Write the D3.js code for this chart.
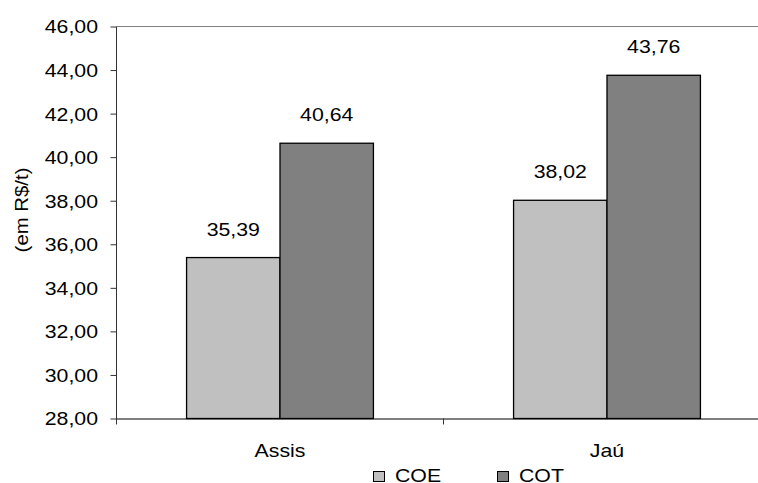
<!DOCTYPE html>
<html><head><meta charset="utf-8">
<script src="https://cdn.jsdelivr.net/npm/d3@7"></script>
<style>body{margin:0;background:#fff}svg{display:block;font-family:Arial,"Liberation Sans",sans-serif}</style>
</head><body><svg id="c" width="758" height="483"></svg>
<script>
const categories = ["Assis", "Jaú"];
const seriesNames = ["COE", "COT"];
const coe = [35.39, 38.02];
const cot = [40.64, 43.76];
const yTicks = [28, 30, 32, 34, 36, 38, 40, 42, 44, 46];
const colors = ["#C0C0C0", "#808080"];

const FS = 18.5;
const svg = d3.select("#c");
const m = {l:116.5, t:26.5, r:770.5, b:418.5};
const x0 = d3.scaleBand().domain(categories).range([m.l, m.r]).paddingInner(0).paddingOuter(0);
const y = d3.scaleLinear().domain([28, 46]).range([m.b, m.t]);
const fmt = v => d3.format(".2f")(v).replace(".", ",");

// top border
svg.append("line").attr("x1", m.l).attr("x2", m.r).attr("y1", m.t).attr("y2", m.t).attr("stroke", "#808080").attr("stroke-width", 1);

const series = [coe, cot];
const bw = x0.bandwidth() / 3.5;
const x1 = d3.scaleBand().domain(seriesNames).range([0, bw*2]);
categories.forEach((c, i) => {
  const off = x0(c) + (x0.bandwidth() - bw*2) / 2;
  seriesNames.forEach((s, j) => {
    const v = series[j][i];
    const xx = off + x1(s);
    svg.append("rect").attr("x", xx).attr("y", y(v)).attr("width", x1.bandwidth()).attr("height", y(28) - y(v))
      .attr("fill", colors[j]).attr("stroke", "#000").attr("stroke-width", 1.3);
    svg.append("text").attr("class", "st").attr("x", xx + x1.bandwidth()/2).attr("y", y(v) - 22).attr("text-anchor", "middle")
      .attr("font-size", FS).attr("fill", "#000").text(fmt(v));
  });
});

// y axis
const ya = svg.append("g").attr("transform", `translate(${m.l},0)`)
  .call(d3.axisLeft(y).tickValues(yTicks).tickFormat(fmt).tickSize(6).tickSizeOuter(0));
ya.select(".domain").attr("stroke", "#333").attr("d", `M0,${m.t}V${m.b+6}`);
ya.selectAll(".tick line").attr("stroke", "#333");
ya.selectAll(".tick text").attr("class", "st").attr("font-size", FS).attr("fill", "#000").attr("x", -18.5).attr("dy", "0.35em")
  .style("font-family", "Arial, 'Liberation Sans', sans-serif");

// x axis
const xa = svg.append("g").attr("transform", `translate(0,${m.b})`)
  .call(d3.axisBottom(x0).tickSize(0).tickSizeOuter(0));
xa.select(".domain").attr("stroke", "#000");
xa.selectAll(".tick text").attr("class", "st").attr("font-size", FS).attr("fill", "#000").attr("y", 38).attr("dy", 0)
  .style("font-family", "Arial, 'Liberation Sans', sans-serif");
svg.append("line").attr("x1", x0(categories[1])).attr("x2", x0(categories[1])).attr("y1", m.b).attr("y2", m.b + 6).attr("stroke", "#333");

// y title
svg.append("text").attr("id", "yt").attr("transform", `translate(28,210) rotate(-90)`).attr("text-anchor", "middle")
  .attr("font-size", FS).attr("fill", "#000").text("(em R$/t)");

// legend
const lg = [{x:373.5, s:0}, {x:497.5, s:1}];
lg.forEach(d => {
  svg.append("rect").attr("x", d.x).attr("y", 471.5).attr("width", 11).attr("height", 10)
    .attr("fill", colors[d.s]).attr("stroke", "#000").attr("stroke-width", 1);
  svg.append("text").attr("class", "st").attr("x", d.x + 21.5).attr("y", 482).attr("font-size", FS).attr("fill", "#000").text(seriesNames[d.s]);
});

// horizontal stretch to match reference glyph proportions
svg.selectAll("text.st").each(function(){
  const len = this.getComputedTextLength();
  d3.select(this).attr("textLength", len * 1.15).attr("lengthAdjust", "spacingAndGlyphs");
});
const yt = svg.select("#yt").node();
d3.select(yt).attr("textLength", yt.getComputedTextLength() * 1.1).attr("lengthAdjust", "spacingAndGlyphs");
</script></body></html>
